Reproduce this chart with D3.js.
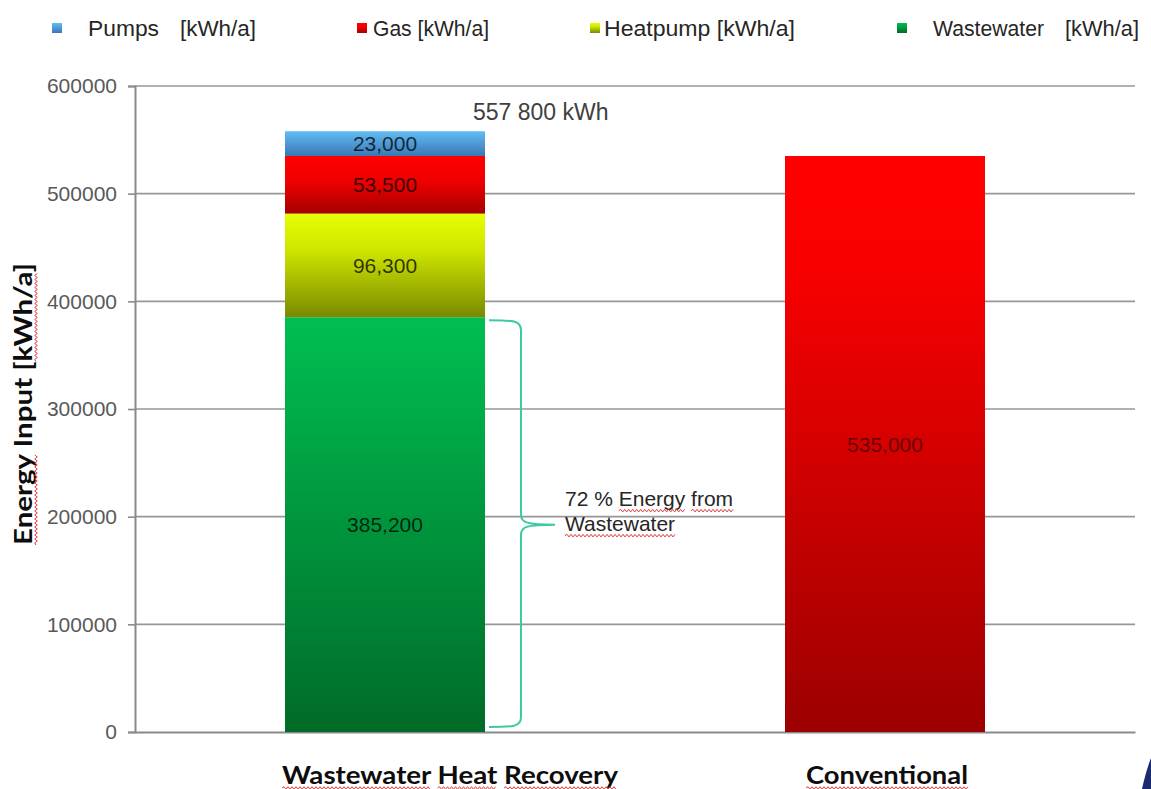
<!DOCTYPE html>
<html>
<head>
<meta charset="utf-8">
<script src="https://cdn.jsdelivr.net/npm/d3@7/dist/d3.min.js"></script>
<style>
  html, body { margin: 0; padding: 0; background: #fff; }
  svg { display: block; }
</style>
</head>
<body>
<svg id="chart" width="1151" height="789"></svg>
<script>
// ---------------- DATA ----------------
const categories = ["Wastewater Heat Recovery", "Conventional"];
const seriesNames = ["Wastewater", "Heatpump", "Gas", "Pumps"];
const wastewater = [385200, 0];
const heatpump   = [96300, 0];
const gas        = [53500, 0];
const pumps      = [23000, 0];
const conventional = [0, 535000];
const valueLabels = { Wastewater: ["385,200", ""], Heatpump: ["96,300", ""], Gas: ["53,500", ""], Pumps: ["23,000", ""] };
const conventionalLabel = "535,000";
const totalLabel = "557 800 kWh";
const yTicks = [0, 100000, 200000, 300000, 400000, 500000, 600000];
const legendLabels = [["Pumps", "[kWh/a]"], ["Gas [kWh/a]"], ["Heatpump [kWh/a]"], ["Wastewater", "[kWh/a]"]];
const yTitle = "Energy Input [kWh/a]";
const annotationLines = ["72 % Energy from", "Wastewater"];

// ---------------- LAYOUT ----------------
const svg = d3.select("#chart");
const plot = { left: 135, right: 1135, top: 86, bottom: 732 };
const x = d3.scaleBand().domain(categories).range([plot.left, plot.right]).paddingInner(0.6).paddingOuter(0.3);
const y = d3.scaleLinear().domain([0, 600000]).range([plot.bottom, plot.top]);

const gradSpecs = {
  Pumps:       [[0, "#62bdf5"], [1, "#3a77b4"]],
  Gas:         [[0, "#ff0000"], [0.45, "#ee0000"], [1, "#a40000"]],
  Heatpump:    [[0, "#e6ff00"], [0.35, "#cfe600"], [1, "#788a00"]],
  Wastewater:  [[0, "#00bf52"], [1, "#006b28"]],
  Conventional:[[0, "#ff0000"], [0.2, "#f80000"], [1, "#9c0000"]]
};
const defs = svg.append("defs");
Object.entries(gradSpecs).forEach(([k, stops]) => {
  const g = defs.append("linearGradient").attr("id", "g-" + k)
    .attr("x1", 0).attr("y1", 0).attr("x2", 0).attr("y2", 1);
  stops.forEach(s => g.append("stop").attr("offset", s[0]).attr("stop-color", s[1]));
});

// gridlines
svg.append("g").selectAll("line").data(yTicks.filter(d => d > 0)).join("line")
  .attr("x1", plot.left).attr("x2", plot.right)
  .attr("y1", d => y(d)).attr("y2", d => y(d))
  .attr("stroke", "#979797").attr("stroke-width", 1.6);

// y axis
const yAxis = svg.append("g").attr("transform", `translate(${plot.left},0)`)
  .call(d3.axisLeft(y).tickValues(yTicks).tickSize(7).tickPadding(11).tickFormat(d => String(d)));
yAxis.select(".domain").attr("stroke", "#8a8a8a").attr("stroke-width", 2);
yAxis.selectAll(".tick line").attr("stroke", "#8a8a8a").attr("stroke-width", 1.6);
yAxis.selectAll(".tick text").attr("fill", "#595959")
  .style("font-family", "'Liberation Sans', Arial, sans-serif").style("font-size", "21px");

// bottom axis line
const xAxis = svg.append("g").attr("transform", `translate(0,${plot.bottom})`)
  .call(d3.axisBottom(x).tickSize(0).tickFormat(""));
xAxis.select(".domain").attr("stroke", "#8a8a8a").attr("stroke-width", 2);

// stacked bars
const rows = categories.map((c, i) => ({ cat: c, Wastewater: wastewater[i], Heatpump: heatpump[i], Gas: gas[i], Pumps: pumps[i] }));
const stack = d3.stack().keys(seriesNames)(rows);
const barsG = svg.append("g");
stack.forEach(layer => {
  layer.forEach((d, i) => {
    if (d[1] - d[0] <= 0) return;
    barsG.append("rect")
      .attr("x", x(d.data.cat)).attr("width", x.bandwidth())
      .attr("y", y(d[1])).attr("height", y(d[0]) - y(d[1]))
      .attr("fill", `url(#g-${layer.key})`);
    barsG.append("text")
      .attr("x", x(d.data.cat) + x.bandwidth() / 2)
      .attr("y", (y(d[0]) + y(d[1])) / 2)
      .attr("dy", "0.36em").attr("text-anchor", "middle")
      .attr("fill", "#000").attr("fill-opacity", 0.75)
      .style("font-family", "'Liberation Sans', Arial, sans-serif").style("font-size", "21px")
      .text(valueLabels[layer.key][i]);
  });
});
// conventional bar
categories.forEach((c, i) => {
  if (!conventional[i]) return;
  barsG.append("rect")
    .attr("x", x(c)).attr("width", x.bandwidth())
    .attr("y", y(conventional[i])).attr("height", y(0) - y(conventional[i]))
    .attr("fill", "url(#g-Conventional)");
  barsG.append("text")
    .attr("x", x(c) + x.bandwidth() / 2).attr("y", (y(0) + y(conventional[i])) / 2)
    .attr("dy", "0.36em").attr("text-anchor", "middle")
    .attr("fill", "#000").attr("fill-opacity", 0.55)
    .style("font-family", "'Liberation Sans', Arial, sans-serif").style("font-size", "21px")
    .text(conventionalLabel);
});

// total label
const total0 = d3.sum(seriesNames, k => rows[0][k]);
svg.append("text").attr("x", x(categories[0]) + 188).attr("y", y(total0) - 11)
  .attr("fill", "#404040")
  .style("font-family", "'Liberation Sans', Arial, sans-serif").style("font-size", "23px")
  .text(totalLabel);

// wavy underline helper
function wavy(parent, x0, x1, yy) {
  let d = `M${x0},${yy}`;
  let up = true;
  for (let xx = x0 + 2; xx <= x1; xx += 2) { d += ` L${xx},${yy + (up ? -1.3 : 1.3)}`; up = !up; }
  parent.append("path").attr("d", d).attr("fill", "none").attr("stroke", "#e23a3a").attr("stroke-width", 1);
}
function underlineWords(parent, textNode, words, dyBase) {
  const s = textNode.textContent;
  words.forEach(w => {
    const idx = s.indexOf(w);
    if (idx < 0) return;
    const a = textNode.getStartPositionOfChar(idx);
    const b = textNode.getEndPositionOfChar(idx + w.length - 1);
    wavy(parent, a.x, b.x, a.y + dyBase);
  });
}

// bracket
const c0 = categories[0];
const xb = x(c0) + x.bandwidth() + 4;
const xv = xb + 32, xt = xb + 66;
const yTop = y(wastewater[0]) + 3, yBot = y(0) - 5, yMid = y(wastewater[0] / 2);
const bp = `M${xb},${yTop} C${xv - 8},${yTop} ${xv},${yTop} ${xv},${yTop + 10} L${xv},${yMid - 10} C${xv},${yMid - 2} ${xv + 6},${yMid} ${xt},${yMid}` +
           ` M${xt},${yMid} C${xv + 6},${yMid} ${xv},${yMid + 2} ${xv},${yMid + 10} L${xv},${yBot - 10} C${xv},${yBot} ${xv - 8},${yBot} ${xb},${yBot}`;
svg.append("path").attr("d", bp).attr("fill", "none").attr("stroke", "#3cc9a4").attr("stroke-width", 2);

// annotation
const annG = svg.append("g");
annotationLines.forEach((l, i) => {
  const t = annG.append("text").attr("x", xt + 10).attr("y", yMid - 19 + i * 25)
    .attr("fill", "#262626")
    .style("font-family", "'Liberation Sans', Arial, sans-serif").style("font-size", "21px")
    .text(l);
  underlineWords(annG, t.node(), i === 0 ? ["Energy", "from"] : ["Wastewater"], 5);
});

// x labels
const xLabelDx = [65, 2];
const xLabelLen = [336, 162];
const xlG = svg.append("g");
categories.forEach((c, i) => {
  const t = xlG.append("text")
    .attr("x", x(c) + x.bandwidth() / 2 + xLabelDx[i]).attr("y", 784)
    .attr("text-anchor", "middle").attr("fill", "#0d0d0d")
    .attr("textLength", xLabelLen[i]).attr("lengthAdjust", "spacingAndGlyphs")
    .style("font-family", "Lato, sans-serif").style("font-weight", 700).style("font-size", "25px")
    .text(c);
  underlineWords(xlG, t.node(), c.split(" "), 4);
});

// y title
const ytG = svg.append("g").attr("transform", "translate(32,404) rotate(-90)");
const yt = ytG.append("text").attr("x", 0).attr("y", 0).attr("text-anchor", "middle")
  .attr("fill", "#0d0d0d")
  .attr("textLength", 282).attr("lengthAdjust", "spacingAndGlyphs")
  .style("font-family", "Lato, sans-serif").style("font-weight", 700).style("font-size", "24px")
  .text(yTitle);
underlineWords(ytG, yt.node(), ["Energy", "kWh/a"], 4);

// legend
const legendKeys = ["Pumps", "Gas", "Heatpump", "Wastewater"];
const legendSqX = [52, 357, 590, 897];
const legendTxtX = [[88, 180], [373], [604], [933, 1065]];
const legendTxtLen = [[71, 76], [116], [191], [111, 74]];
const legG = svg.append("g");
legendKeys.forEach((k, i) => {
  legG.append("rect").attr("x", legendSqX[i]).attr("y", 23).attr("width", 10).attr("height", 10)
    .attr("fill", `url(#g-${k})`);
  legendLabels[i].forEach((lab, j) => {
    legG.append("text").attr("x", legendTxtX[i][j]).attr("y", 36)
      .attr("fill", "#262626")
      .attr("textLength", legendTxtLen[i][j]).attr("lengthAdjust", "spacingAndGlyphs")
      .style("font-family", "'Liberation Sans', Arial, sans-serif").style("font-size", "22px")
      .text(lab);
  });
});

// cropped artifact at bottom-right corner
svg.append("path").attr("d", "M1151,758 L1151,789 L1142,789 C1144,780 1147,768 1151,758 Z").attr("fill", "#1c2a6e");
</script>
</body>
</html>
